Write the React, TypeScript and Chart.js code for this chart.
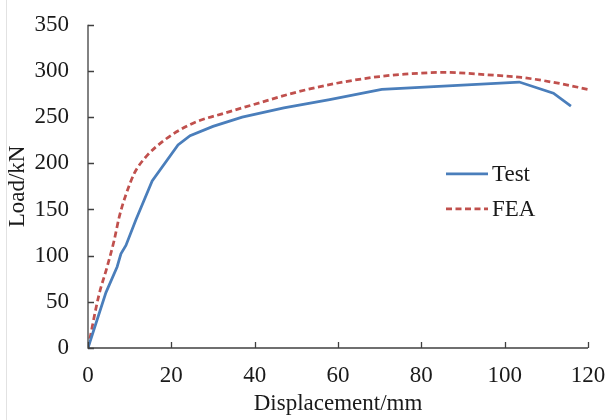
import React, { useEffect, useRef } from "react";
import { Chart, registerables } from "chart.js";

Chart.register(...registerables);

const testX = [0, 4.3, 7.0, 7.9, 9.1, 11.5, 15.4, 21.6, 24.5, 30, 37, 47, 58, 70.5, 103.5, 111.7, 115.9];
const testY = [0, 60, 88, 102, 111, 139, 181, 220, 230, 240, 250, 260, 269, 280, 288, 276, 262];

const feaX = [0, 2.6, 4.6, 6.3, 7.5, 9.1, 11.1, 13.9, 18.3, 22, 26, 32.5, 40, 50, 60, 70, 76, 85.7, 95.5, 104, 112.8, 120];
const feaY = [0, 57, 88, 117, 142, 166, 189, 207, 225, 236, 245, 254, 264, 277, 287, 294, 296.5, 298.5, 296, 293, 286.8, 280];

const xTicks = [0, 20, 40, 60, 80, 100, 120];
const yTicks = [0, 50, 100, 150, 200, 250, 300, 350];

const seriesNames = ["Test", "FEA"];
const seriesColors = ["#4A7EBB", "#C0504D"];

const FONT = "'Liberation Serif', 'Times New Roman', serif";
const FS = 23;
const AXIS_COLOR = "#404040";

const axesPlugin = {
  id: "axesPlugin",
  afterDatasetsDraw(chart: any) {
    const { ctx, chartArea, scales } = chart;
    const { left, right, top, bottom } = chartArea;
    ctx.save();
    ctx.strokeStyle = "#e2e2e2";
    ctx.lineWidth = 1;
    ctx.beginPath();
    ctx.moveTo(6.5, 0);
    ctx.lineTo(6.5, chart.height);
    ctx.stroke();

    ctx.strokeStyle = AXIS_COLOR;
    ctx.lineWidth = 1.3;
    ctx.beginPath();
    ctx.moveTo(left, top);
    ctx.lineTo(left, bottom);
    ctx.lineTo(right, bottom);
    ctx.stroke();
    ctx.beginPath();
    for (const v of yTicks) {
      const y = Math.round(scales.y.getPixelForValue(v)) + 0.5;
      ctx.moveTo(left, y);
      ctx.lineTo(left + 6, y);
    }
    for (const v of xTicks) {
      const x = Math.round(scales.x.getPixelForValue(v)) + 0.5;
      ctx.moveTo(x, bottom);
      ctx.lineTo(x, bottom - 6);
    }
    ctx.stroke();

    // legend
    const lx0 = left + 358;
    const lx1 = left + 400;
    const tx = left + 404;
    const ys = [top + 149, top + 184];
    ctx.lineWidth = 2.75;
    ctx.strokeStyle = seriesColors[0];
    ctx.beginPath();
    ctx.moveTo(lx0, ys[0]);
    ctx.lineTo(lx1, ys[0]);
    ctx.stroke();
    ctx.strokeStyle = seriesColors[1];
    ctx.setLineDash([6, 3.5]);
    ctx.beginPath();
    ctx.moveTo(lx0, ys[1]);
    ctx.lineTo(lx1, ys[1]);
    ctx.stroke();
    ctx.setLineDash([]);
    ctx.fillStyle = "#1a1a1a";
    ctx.font = `${FS}px ${FONT}`;
    ctx.textBaseline = "middle";
    ctx.textAlign = "left";
    ctx.fillText(seriesNames[0], tx, ys[0] + 1);
    ctx.fillText(seriesNames[1], tx, ys[1] + 1);
    ctx.restore();
  },
};

export default function App() {
  const ref = useRef<HTMLCanvasElement>(null);
  useEffect(() => {
    if (!ref.current) return;
    const chart = new Chart(ref.current, {
      type: "line",
      data: {
        datasets: [
          {
            label: seriesNames[0],
            data: testX.map((x, i) => ({ x, y: testY[i] })),
            borderColor: seriesColors[0],
            borderWidth: 2.75,
            pointRadius: 0,
            tension: 0,
            fill: false,
          },
          {
            label: seriesNames[1],
            data: feaX.map((x, i) => ({ x, y: feaY[i] })),
            borderColor: seriesColors[1],
            borderWidth: 2.75,
            borderDash: [6, 3.5],
            pointRadius: 0,
            cubicInterpolationMode: "monotone",
            fill: false,
          },
        ],
      },
      options: {
        animation: false,
        responsive: false,
        maintainAspectRatio: false,
        layout: { padding: { left: 0, right: 17, top: 18, bottom: 0 } },
        plugins: { legend: { display: false }, tooltip: { enabled: false } },
        scales: {
          x: {
            type: "linear",
            min: 0,
            max: 120,
            afterFit: (s: any) => {
              s.height = 72;
              s.paddingLeft = 0;
              s.paddingRight = 0;
            },
            afterBuildTicks: (s: any) => {
              s.ticks = xTicks.map((v) => ({ value: v }));
            },
            grid: { display: false },
            border: { display: false },
            ticks: {
              color: "#1a1a1a",
              font: { family: FONT, size: FS },
              padding: 6,
              maxRotation: 0,
              autoSkip: false,
            },
            title: {
              display: true,
              text: "Displacement/mm",
              color: "#1a1a1a",
              font: { family: FONT, size: FS },
              padding: { top: 0, bottom: 2 },
            },
          },
          y: {
            type: "linear",
            min: 0,
            max: 350,
            afterFit: (s: any) => {
              s.width = 88;
            },
            afterBuildTicks: (s: any) => {
              s.ticks = yTicks.map((v) => ({ value: v }));
            },
            grid: { display: false },
            border: { display: false },
            ticks: {
              color: "#1a1a1a",
              font: { family: FONT, size: FS },
              padding: 11,
              autoSkip: false,
            },
            title: {
              display: true,
              text: "Load/kN",
              color: "#1a1a1a",
              font: { family: FONT, size: FS },
              padding: { top: 4, bottom: 0 },
            },
          },
        },
      },
      plugins: [axesPlugin],
    });
    return () => chart.destroy();
  }, []);
  return (
    <div style={{ position: "fixed", left: 0, top: 0, width: 605, height: 420, background: "#fff" }}>
      <canvas ref={ref} width={605} height={420} style={{ display: "block", width: 605, height: 420 }} />
    </div>
  );
}
